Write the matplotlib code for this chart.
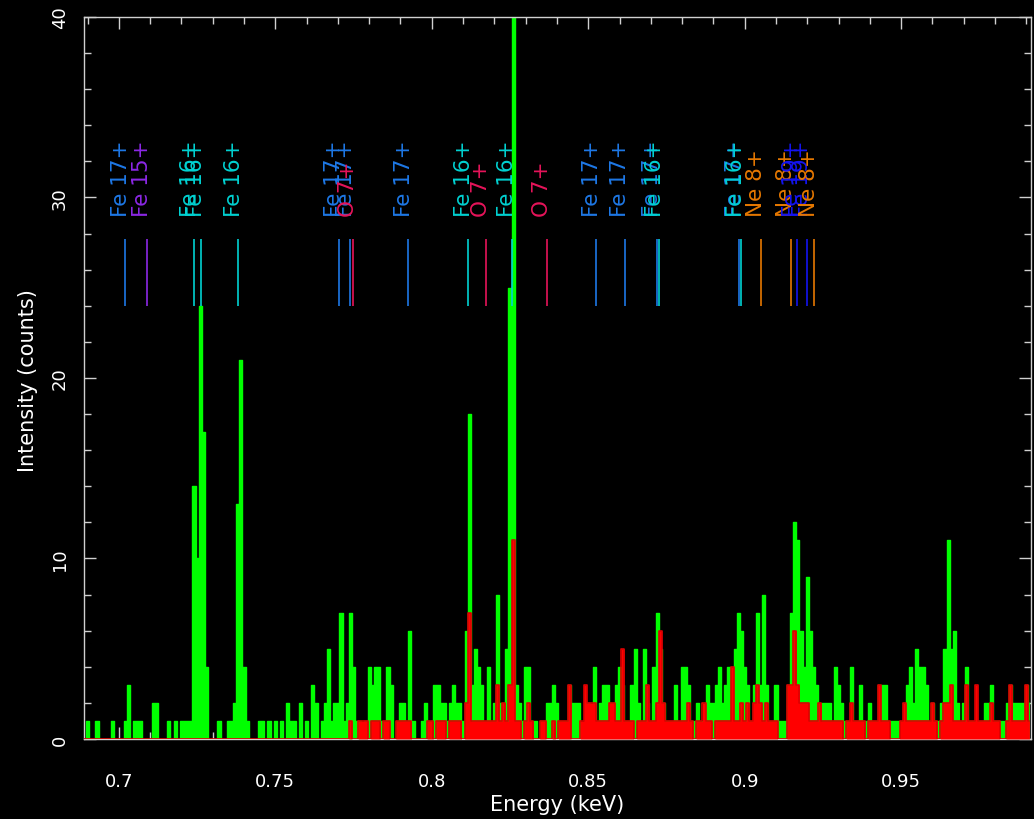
import numpy as np
import matplotlib
matplotlib.use("Agg")
import matplotlib.pyplot as plt
import matplotlib.transforms as mtransforms
from matplotlib.ticker import MultipleLocator, FuncFormatter

# ------------------------------------------------------------
# Spectrum data : counts per 0.001 keV bin
# ------------------------------------------------------------

e_start = 0.689     # centre of first bin (keV)
e_step = 0.001      # bin width (keV)

green_counts = [
    0, 1, 0, 0, 1, 0, 0, 0, 0, 1,
    0, 0, 0, 1, 3, 0, 1, 1, 1, 0,
    0, 0, 2, 2, 0, 0, 0, 1, 0, 1,
    0, 1, 1, 1, 1, 14, 10, 24, 17, 4,
    0, 0, 0, 1, 0, 0, 1, 1, 2, 13,
    21, 4, 1, 0, 0, 0, 1, 1, 0, 1,
    0, 1, 0, 1, 0, 2, 1, 1, 0, 2,
    0, 1, 0, 3, 2, 0, 1, 2, 5, 1,
    2, 2, 7, 1, 2, 7, 4, 1, 1, 0,
    1, 4, 3, 4, 4, 1, 1, 4, 3, 0,
    1, 2, 2, 1, 6, 1, 0, 0, 1, 2,
    1, 1, 3, 3, 2, 2, 1, 2, 3, 2,
    2, 1, 6, 18, 3, 5, 4, 3, 1, 4,
    1, 2, 8, 2, 2, 5, 25, 45, 3, 2,
    1, 4, 4, 1, 1, 0, 1, 1, 2, 2,
    3, 2, 1, 1, 1, 3, 2, 2, 2, 0,
    1, 2, 1, 4, 1, 2, 3, 3, 2, 2,
    3, 4, 3, 1, 1, 3, 5, 2, 1, 5,
    2, 1, 4, 7, 5, 2, 1, 1, 1, 3,
    1, 4, 4, 3, 1, 1, 2, 1, 1, 3,
    2, 2, 3, 4, 2, 3, 4, 2, 5, 7,
    6, 4, 3, 1, 3, 7, 3, 8, 3, 1,
    1, 3, 1, 1, 1, 3, 7, 12, 11, 6,
    4, 9, 6, 4, 3, 2, 2, 2, 2, 1,
    4, 3, 2, 1, 1, 4, 1, 1, 3, 1,
    1, 2, 1, 1, 3, 3, 3, 1, 1, 1,
    1, 1, 1, 3, 4, 2, 5, 4, 4, 3,
    1, 2, 1, 1, 2, 5, 11, 5, 6, 2,
    1, 2, 4, 1, 1, 1, 1, 1, 2, 2,
    3, 1, 1, 1, 1, 2, 3, 2, 2, 2,
    2, 3, 2,
]

red_counts = [0] * 80 + [
    0, 0, 0, 0, 0, 1, 0, 0, 1, 1,
    1, 0, 1, 1, 1, 0, 1, 1, 0, 0,
    1, 1, 1, 1, 1, 0, 0, 0, 0, 0,
    1, 1, 0, 1, 1, 1, 0, 1, 1, 1,
    1, 0, 2, 7, 1, 1, 1, 1, 1, 1,
    1, 1, 3, 1, 2, 1, 3, 11, 1, 1,
    0, 1, 2, 1, 0, 0, 1, 1, 0, 0,
    1, 0, 1, 1, 1, 3, 0, 0, 0, 1,
    3, 2, 2, 2, 1, 1, 1, 1, 2, 2,
    1, 1, 5, 1, 1, 1, 0, 1, 1, 1,
    3, 1, 1, 2, 6, 2, 1, 1, 1, 1,
    1, 1, 1, 2, 1, 0, 1, 1, 2, 1,
    1, 0, 1, 1, 1, 1, 1, 4, 1, 1,
    2, 1, 2, 1, 2, 3, 2, 1, 2, 1,
    1, 1, 0, 0, 0, 3, 3, 6, 3, 2,
    2, 2, 1, 1, 1, 2, 1, 1, 1, 1,
    1, 1, 1, 0, 1, 2, 1, 1, 1, 1,
    0, 1, 1, 1, 3, 1, 1, 1, 0, 0,
    0, 1, 2, 1, 1, 1, 1, 1, 1, 1,
    1, 2, 1, 0, 1, 2, 2, 3, 1, 1,
    1, 1, 3, 1, 1, 3, 1, 1, 1, 1,
    2, 1, 1, 0, 0, 1, 3, 1, 1, 1,
    1, 3, 1,
]

# ------------------------------------------------------------
# Line identifications
# ------------------------------------------------------------

line_energy = [
    0.7020, 0.7089, 0.7241, 0.7262, 0.7382, 0.7703, 0.7739, 0.7747,
    0.7925, 0.8117, 0.8172, 0.8256, 0.8367, 0.8525, 0.8617, 0.8719,
    0.8727, 0.8983, 0.8987, 0.9051, 0.9148, 0.9166, 0.9199, 0.9221,
]
line_ion = [
    "Fe 17+", "Fe 15+", "Fe 16+", "Fe 16+", "Fe 16+", "Fe 17+", "Fe 17+", "O 7+",
    "Fe 17+", "Fe 16+", "O 7+", "Fe 16+", "O 7+", "Fe 17+", "Fe 17+", "Fe 17+",
    "Fe 16+", "Fe 17+", "Fe 16+", "Ne 8+", "Ne 8+", "Fe 19+", "Fe 19+", "Ne 8+",
]

ion_color = {
    "Fe 15+": "#8c28e6",
    "Fe 16+": "#00d2d2",
    "Fe 17+": "#1e78e6",
    "Fe 19+": "#1414f0",
    "O 7+": "#e6145a",
    "Ne 8+": "#e67800",
}

energy = e_start + e_step * np.arange(len(green_counts))

# ------------------------------------------------------------
# Plot
# ------------------------------------------------------------

plt.rcParams["font.family"] = ["DejaVu Sans"]

fig = plt.figure(figsize=(10.34, 8.2), dpi=100, facecolor="black")
ax = fig.add_axes([0.0812, 0.0976, 0.9159, 0.8805], facecolor="black")

# green spectrum
ax.fill_between(energy, green_counts, step="mid", color="#00ff00", lw=0, zorder=2)
ax.step(energy, green_counts, where="mid", color="#00ff00", lw=1.0, zorder=2)

# red spectrum
ax.fill_between(energy, red_counts, step="mid", color="#ff0000", lw=0, zorder=3)
ax.step(energy, red_counts, where="mid", color="#dd0000", lw=1.2, zorder=3)

# line markers and labels
cols = [ion_color[k] for k in line_ion]
ax.vlines(line_energy, 24.0, 27.7, colors=cols, lw=1.2, zorder=4)

shift = mtransforms.offset_copy(ax.transData, fig=fig, x=1.5, y=0, units="dots")
for x, ion, c in zip(line_energy, line_ion, cols):
    ax.text(x, 29.0, ion, color=c, fontsize=15.5, rotation=90,
            rotation_mode="anchor", ha="left", va="baseline",
            transform=shift, zorder=5)

ax.set_xlim(0.68885, 0.9915)
ax.set_ylim(0, 40)

ax.xaxis.set_major_locator(MultipleLocator(0.05))
ax.xaxis.set_minor_locator(MultipleLocator(0.01))
ax.yaxis.set_major_locator(MultipleLocator(10))
ax.yaxis.set_minor_locator(MultipleLocator(2))
ax.xaxis.set_major_formatter(FuncFormatter(lambda v, p: "%g" % round(v, 3)))
ax.yaxis.set_major_formatter(FuncFormatter(lambda v, p: "%d" % v))

for s in ax.spines.values():
    s.set_color("#d0d0d0")
    s.set_linewidth(1.0)

ax.tick_params(which="both", direction="in", top=True, right=True,
               color="#d0d0d0", labelcolor="white", labelsize=13)
ax.tick_params(which="major", length=8.5, width=1.0)
ax.tick_params(which="minor", length=5, width=1.0)
ax.tick_params(axis="x", pad=24)
ax.tick_params(axis="y", pad=11, labelrotation=90)
for t in ax.get_yticklabels():
    t.set_va("center")

fig.text(28 / 1034, 1 - 381 / 820, "Intensity (counts)", color="white",
         fontsize=15, rotation=90, ha="center", va="center")
fig.text(557 / 1034, 1 - 805 / 820, "Energy (keV)", color="white",
         fontsize=15, ha="center", va="center")

fig.savefig("out.png", dpi=100, facecolor="black")
